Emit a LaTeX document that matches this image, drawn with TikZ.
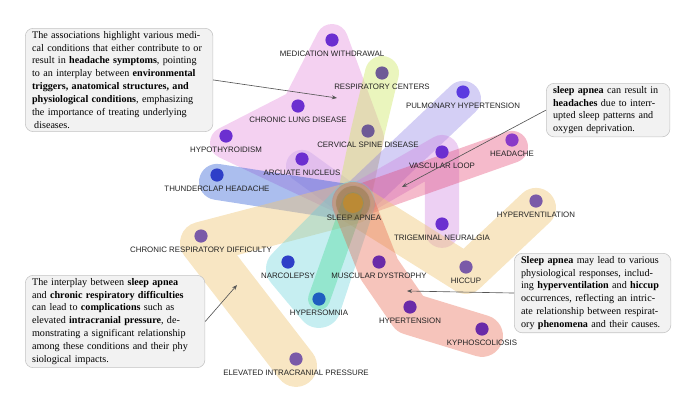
\documentclass[tikz,border=0pt]{standalone}
\usepackage{fontspec}
\setmainfont{Liberation Serif}
\newfontfamily\tagfont{Liberation Sans}
\usepackage{tikz}
\usetikzlibrary{arrows.meta,positioning,backgrounds}
\usepackage{xcolor}
\definecolor{violetdot}{HTML}{6B2FD0}
\definecolor{bluevio}{HTML}{5B3BE0}
\definecolor{greyplum}{HTML}{6E5A96}
\definecolor{mauve}{HTML}{7A5AA8}
\definecolor{royal}{HTML}{2E3FC8}
\definecolor{azure}{HTML}{1F5FC0}
\definecolor{plum}{HTML}{6A2AA8}
\definecolor{orchid}{HTML}{8A3AC8}
\definecolor{apnea}{HTML}{C88A28}
\definecolor{apneaglow}{HTML}{7D6A1F}
\definecolor{tagink}{HTML}{222222}
\definecolor{notebg}{HTML}{F2F2F2}
\definecolor{noteline}{HTML}{C4C4C4}
\definecolor{pointergrey}{HTML}{555555}
\definecolor{pinkband}{HTML}{E080D9}
\definecolor{limeband}{HTML}{CDE761}
\definecolor{lavband}{HTML}{877AE2}
\definecolor{redband}{HTML}{E2406E}
\definecolor{blueband}{HTML}{154BD1}
\definecolor{tanband}{HTML}{EFC779}
\definecolor{cyanband}{HTML}{61D1D9}
\definecolor{greenband}{HTML}{3ED890}
\definecolor{salmonband}{HTML}{E65B42}
\definecolor{lilacband}{HTML}{CC7CDE}
\definecolor{arcband}{HTML}{C39FE7}
\tikzset{
  dot/.style    ={circle, minimum size=0.33cm, inner sep=0pt},
  tag/.style    ={font=\tagfont\fontsize{5.6}{6}\selectfont, text=tagink, inner sep=0pt},
  hedge/.style  ={line width=0.9cm, line cap=round, line join=round, draw opacity=0.36},
  note/.style   ={rectangle, rounded corners=0.2cm, draw=noteline, fill=notebg,
                  line width=0.4pt, inner xsep=0.17cm, inner ysep=0.07cm, align=left,
                  font=\fontsize{7.2}{9.2}\selectfont, text=black, anchor=north west},
  pointer/.style={draw=pointergrey, line width=0.45pt,
                  -{Stealth[length=1.3mm,width=1mm]}},
}
\newcommand{\jl}[1]{\noindent\makebox[\hsize][s]{#1}}
\newcommand{\concept}[4]{%
  \node[dot, fill=#3] (#1) at (#2) {};
  \node[tag, below=0.09cm of #1] (#1-t) {#4};
}

\begin{document}
\begin{tikzpicture}[x=0.025cm, y=-0.025cm]
\useasboundingbox (0,0) rectangle (700,402);

% ---------------- concepts ----------------
\concept{med}{332,40}{violetdot}{MEDICATION WITHDRAWAL}
\concept{rc}{382,73}{greyplum}{RESPIRATORY CENTERS}
\concept{cld}{298,106}{violetdot}{CHRONIC LUNG DISEASE}
\concept{ph}{463,92}{bluevio}{PULMONARY HYPERTENSION}
\concept{csd}{368,131}{greyplum}{CERVICAL SPINE DISEASE}
\concept{hyt}{226,136}{violetdot}{HYPOTHYROIDISM}
\concept{arc}{302,159}{violetdot}{ARCUATE NUCLEUS}
\concept{thd}{217,175}{royal}{THUNDERCLAP HEADACHE}
\concept{vl}{442,152}{violetdot}{VASCULAR LOOP}
\concept{hd}{512,140}{orchid}{HEADACHE}
\concept{hv}{536,201}{mauve}{HYPERVENTILATION}
\concept{tn}{442,224}{violetdot}{TRIGEMINAL NEURALGIA}
\concept{hic}{466,267}{mauve}{HICCUP}
\concept{crd}{201,236}{mauve}{CHRONIC RESPIRATORY DIFFICULTY}
\concept{nar}{288,262}{royal}{NARCOLEPSY}
\concept{md}{379,262}{plum}{MUSCULAR DYSTROPHY}
\concept{hs}{319,299}{azure}{HYPERSOMNIA}
\concept{ht}{410,307}{plum}{HYPERTENSION}
\concept{ky}{482,329}{plum}{KYPHOSCOLIOSIS}
\concept{eicp}{296,359}{mauve}{ELEVATED INTRACRANIAL PRESSURE}

% ---------------- sleep apnea hub ----------------
\node[tag] (sa-t) at (354,218) {SLEEP APNEA};
\node[circle, minimum size=0.85cm, inner sep=0pt, fill=apneaglow, fill opacity=0.3] (saglow) at (353,203) {};
\node[circle, minimum size=0.5cm, inner sep=0pt, fill=apnea, fill opacity=0.75] (sa) at (353,203) {};

% ---------------- hyperedges ----------------
\begin{scope}[on background layer]
  \begin{scope}[transparency group, opacity=0.36]
    \filldraw[line width=0.8cm, line join=round, draw=pinkband, fill=pinkband]
      (hyt.south) -- (cld.center) -- (med.center) -- (csd.south) -- (sa.center) -- cycle;
  \end{scope}
  \draw[hedge, draw=arcband, line width=0.8cm] (arc.south) -- (sa.center);
  \draw[hedge, draw=limeband, draw opacity=0.42, line width=0.85cm] (rc.center) -- (csd.center) -- (sa.center);
  \draw[hedge, draw=lavband] (ph.south) -- (sa.center);
  \draw[hedge, draw=lilacband, line width=0.85cm] (tn.south) -- (vl.center) -- (sa.center);
  \draw[hedge, draw=redband, line width=0.8cm] (hd.south) -- (sa.center);
  \draw[hedge, draw=blueband] (thd.south) -- (sa.center);
  \draw[hedge, draw=tanband, draw opacity=0.45, line width=1.05cm] (sa.center) -- (crd.south) -- (eicp.south);
  \draw[hedge, draw=tanband, draw opacity=0.45, line width=1cm] (sa.center) -- (hic.south) -- (hv.south);
  \draw[hedge, draw=cyanband, line width=1.1cm] (nar.south) -- (hs.south) -- (sa.center) -- cycle;
  \draw[hedge, draw=greenband, line width=0.55cm] (hs.center) -- (sa.center);
  \draw[hedge, draw=salmonband, line width=1.05cm] (sa.center) -- (md.south) -- (ht.south) -- (ky.south);
\end{scope}

% ---------------- notes ----------------
\node[note, text width=4.35cm] (note1) at (25,28) {%
  \jl{The associations highlight various medi-}\\
  \jl{cal conditions that either contribute to or}\\
  \jl{result in \textbf{headache symptoms}, pointing}\\
  \jl{to an interplay between \textbf{environmental}}\\
  \jl{\textbf{triggers, anatomical structures, and}}\\
  \jl{\textbf{physiological conditions}, emphasizing}\\
  \jl{the importance of treating underlying}\\
  \hspace*{1.5pt}diseases.};
\node[note, text width=2.75cm] (note2) at (546,83) {%
  \jl{\textbf{sleep apnea} can result in}\\
  \jl{\textbf{headaches} due to interr-}\\
  \jl{upted sleep patterns and}\\
  oxygen deprivation.};
\node[note, text width=4.15cm] (note3) at (25,275) {%
  \jl{The interplay between \textbf{sleep apnea}}\\
  \jl{and \textbf{chronic respiratory difficulties}}\\
  \jl{can lead to \textbf{complications} such as}\\
  \jl{elevated \textbf{intracranial pressure}, de-}\\
  \jl{monstrating a significant relationship}\\
  \jl{among these conditions and their phy}\\
  siological impacts.};
\node[note, text width=3.575cm] (note4) at (514,253) {%
  \jl{\textbf{Sleep apnea} may lead to various}\\
  \jl{physiological responses, includ-}\\
  \jl{ing \textbf{hyperventilation} and \textbf{hiccup}}\\
  \jl{occurrences, reflecting an intric-}\\
  \jl{ate relationship between respirat-}\\
  \jl{ory \textbf{phenomena} and their causes.}};

% ---------------- pointers ----------------
\coordinate (tip1) at (337,98);
\coordinate (tip2) at (402,187);
\coordinate (tip3) at (237,285);
\coordinate (tip4) at (407,291);
\draw[pointer] (note1.east) -- (tip1);
\draw[pointer] (note2.west) -- (tip2);
\draw[pointer] (note3.east) -- (tip3);
\draw[pointer] (note4.west) -- (tip4);

\end{tikzpicture}
\end{document}
